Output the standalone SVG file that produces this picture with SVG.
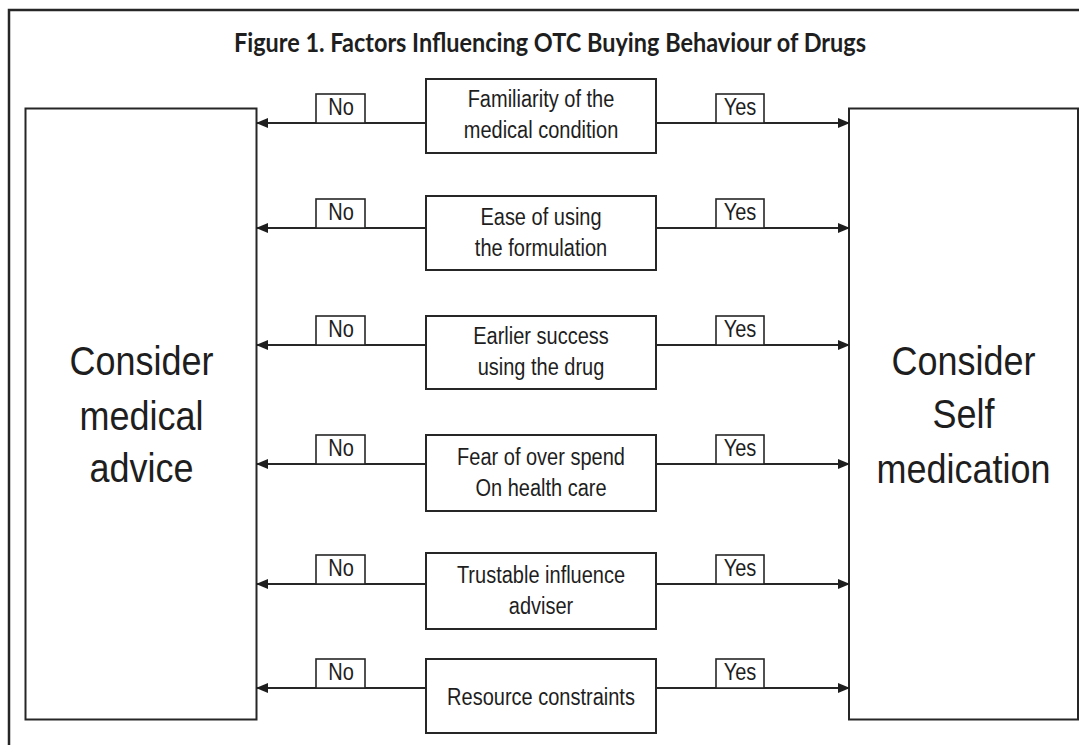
<svg xmlns="http://www.w3.org/2000/svg" width="1079" height="745" viewBox="0 0 1079 745">
  <style>
    .box { fill: #ffffff; stroke: #262626; stroke-width: 2; }
    .frame { fill: none; stroke: #262626; stroke-width: 2.5; }
    .lbl { fill: #ffffff; stroke: #262626; stroke-width: 1.6; }
    .conn { fill: none; stroke: #262626; stroke-width: 2; }
    .t { font-family: "Liberation Sans", Arial, sans-serif; fill: #1e1e1e; text-anchor: middle; }
    .small { font-size: 20px; }
    .big { font-size: 36px; }
    .title { font-family: Lato, "Liberation Sans", sans-serif; font-weight: bold; font-size: 26px; fill: #1e1e1e; text-anchor: middle; }
  </style>
  <defs>
    <marker id="arrow" markerUnits="userSpaceOnUse" markerWidth="12" markerHeight="10" refX="11" refY="5" orient="auto">
      <path d="M0,0 L12,5 L0,10 z" fill="#1e1e1e"/>
    </marker>
  </defs>
  <rect x="0" y="0" width="1079" height="745" fill="#ffffff"/>
  <rect class="frame" x="9" y="10" width="1085" height="760"/>
  <text class="title" x="550" y="52" textLength="632" lengthAdjust="spacingAndGlyphs">Figure 1. Factors Influencing OTC Buying Behaviour of Drugs</text>

  <g id="medical-advice">
    <rect class="box" x="25.5" y="108.5" width="231" height="611"/>
    <text class="t big" transform="translate(141.5,375) scale(1,1.15)">Consider</text>
    <text class="t big" transform="translate(141.5,430) scale(1,1.15)">medical</text>
    <text class="t big" transform="translate(141.5,482) scale(1,1.15)">advice</text>
  </g>
  <g id="self-medication">
    <rect class="box" x="849" y="108.5" width="229" height="611"/>
    <text class="t big" transform="translate(963.5,375) scale(1,1.15)">Consider</text>
    <text class="t big" transform="translate(963.5,428) scale(1,1.15)">Self</text>
    <text class="t big" transform="translate(963.5,483) scale(1,1.15)">medication</text>
  </g>

  <g id="factor-familiarity">
    <rect class="box" x="426" y="79" width="230" height="74"/>
    <text class="t small" transform="translate(541,107) scale(1,1.15)">Familiarity of the</text>
    <text class="t small" transform="translate(541,138) scale(1,1.15)">medical condition</text>
  </g>
  <g id="factor-ease">
    <rect class="box" x="426" y="196" width="230" height="74"/>
    <text class="t small" transform="translate(541,225) scale(1,1.15)">Ease of using</text>
    <text class="t small" transform="translate(541,256) scale(1,1.15)">the formulation</text>
  </g>
  <g id="factor-success">
    <rect class="box" x="426" y="316" width="230" height="73"/>
    <text class="t small" transform="translate(541,344) scale(1,1.15)">Earlier success</text>
    <text class="t small" transform="translate(541,375) scale(1,1.15)">using the drug</text>
  </g>
  <g id="factor-fear">
    <rect class="box" x="426" y="435" width="230" height="76"/>
    <text class="t small" transform="translate(541,465) scale(1,1.15)">Fear of over spend</text>
    <text class="t small" transform="translate(541,496) scale(1,1.15)">On health care</text>
  </g>
  <g id="factor-trust">
    <rect class="box" x="426" y="553" width="230" height="76"/>
    <text class="t small" transform="translate(541,583) scale(1,1.15)">Trustable influence</text>
    <text class="t small" transform="translate(541,614) scale(1,1.15)">adviser</text>
  </g>
  <g id="factor-resource">
    <rect class="box" x="426" y="659" width="230" height="74"/>
    <text class="t small" transform="translate(541,705) scale(1,1.15)">Resource constraints</text>
  </g>

  <g id="connectors">
    <line class="conn" x1="426" y1="123" x2="257" y2="123" marker-end="url(#arrow)"/>
    <line class="conn" x1="656" y1="123" x2="849" y2="123" marker-end="url(#arrow)"/>
    <line class="conn" x1="426" y1="228" x2="257" y2="228" marker-end="url(#arrow)"/>
    <line class="conn" x1="656" y1="228" x2="849" y2="228" marker-end="url(#arrow)"/>
    <line class="conn" x1="426" y1="345" x2="257" y2="345" marker-end="url(#arrow)"/>
    <line class="conn" x1="656" y1="345" x2="849" y2="345" marker-end="url(#arrow)"/>
    <line class="conn" x1="426" y1="464" x2="257" y2="464" marker-end="url(#arrow)"/>
    <line class="conn" x1="656" y1="464" x2="849" y2="464" marker-end="url(#arrow)"/>
    <line class="conn" x1="426" y1="584" x2="257" y2="584" marker-end="url(#arrow)"/>
    <line class="conn" x1="656" y1="584" x2="849" y2="584" marker-end="url(#arrow)"/>
    <line class="conn" x1="426" y1="688" x2="257" y2="688" marker-end="url(#arrow)"/>
    <line class="conn" x1="656" y1="688" x2="849" y2="688" marker-end="url(#arrow)"/>

    <g id="labels">
      <rect class="lbl" x="316" y="94" width="49" height="29"/>
      <text class="t small" transform="translate(341,115) scale(1,1.15)">No</text>
      <rect class="lbl" x="716" y="94" width="48" height="29"/>
      <text class="t small" transform="translate(740,115) scale(1,1.15)">Yes</text>

      <rect class="lbl" x="316" y="199" width="49" height="29"/>
      <text class="t small" transform="translate(341,220) scale(1,1.15)">No</text>
      <rect class="lbl" x="716" y="199" width="48" height="29"/>
      <text class="t small" transform="translate(740,220) scale(1,1.15)">Yes</text>

      <rect class="lbl" x="316" y="316" width="49" height="29"/>
      <text class="t small" transform="translate(341,337) scale(1,1.15)">No</text>
      <rect class="lbl" x="716" y="316" width="48" height="29"/>
      <text class="t small" transform="translate(740,337) scale(1,1.15)">Yes</text>

      <rect class="lbl" x="316" y="435" width="49" height="29"/>
      <text class="t small" transform="translate(341,456) scale(1,1.15)">No</text>
      <rect class="lbl" x="716" y="435" width="48" height="29"/>
      <text class="t small" transform="translate(740,456) scale(1,1.15)">Yes</text>

      <rect class="lbl" x="316" y="555" width="49" height="29"/>
      <text class="t small" transform="translate(341,576) scale(1,1.15)">No</text>
      <rect class="lbl" x="716" y="555" width="48" height="29"/>
      <text class="t small" transform="translate(740,576) scale(1,1.15)">Yes</text>

      <rect class="lbl" x="316" y="659" width="49" height="29"/>
      <text class="t small" transform="translate(341,680) scale(1,1.15)">No</text>
      <rect class="lbl" x="716" y="659" width="48" height="29"/>
      <text class="t small" transform="translate(740,680) scale(1,1.15)">Yes</text>
    </g>
  </g>
</svg>
